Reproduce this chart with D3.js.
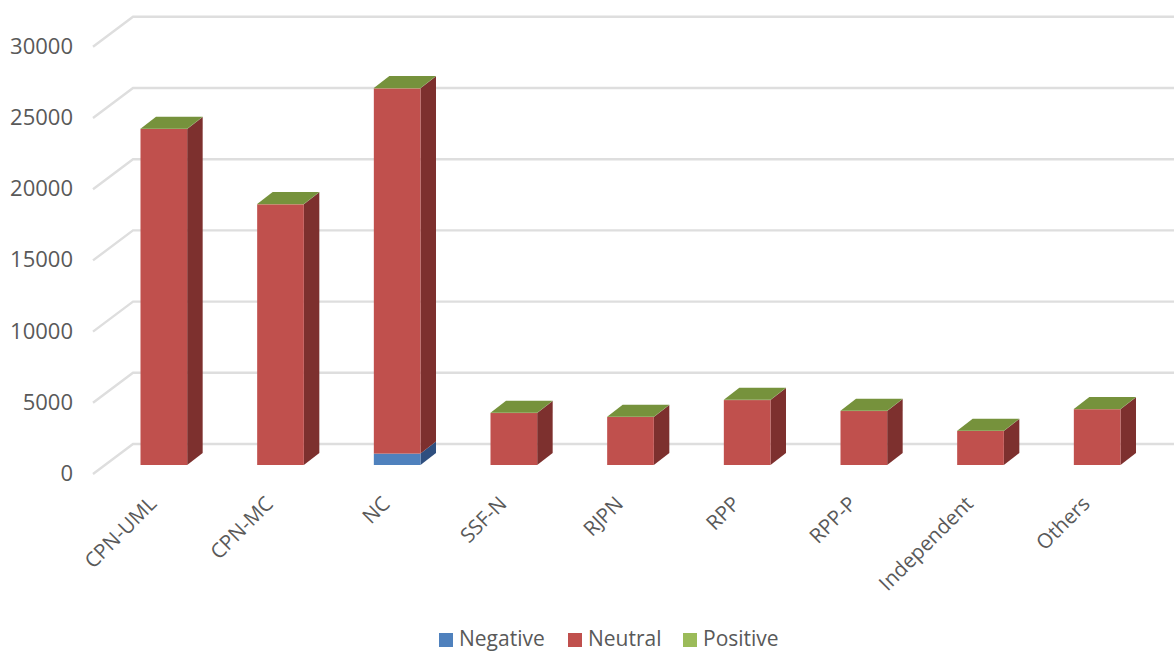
<!DOCTYPE html>
<html><head><meta charset="utf-8">
<script src="https://cdn.jsdelivr.net/npm/d3@7"></script>
<style>html,body{margin:0;padding:0;background:#fff;overflow:hidden}svg{display:block}text{font-family:"Open Sans",sans-serif;fill:#595959}</style>
</head><body><svg id="c" width="1174" height="652"></svg>
<script>
const categories=["CPN-UML","CPN-MC","NC","SSF-N","RJPN","RPP","RPP-P","Independent","Others"];
const negative=[0,0,800,0,0,0,0,0,0];
const neutral=[23600,18310,25650,3650,3370,4560,3790,2390,3920];
const positive=[20,20,25,20,20,20,20,20,20];
const seriesNames=["Negative","Neutral","Positive"];
const ticks=[0,5000,10000,15000,20000,25000,30000];
const frontColors=["#4F81BD","#C0504D","#9BBB59"];
const sideColors=["#2F4F7F","#7D302E","#5F7530"];
const topColor="#76923C";

const svg=d3.select("#c");
const rows=categories.map((c,i)=>({c,Negative:negative[i],Neutral:neutral[i],Positive:positive[i]}));
const stack=d3.stack().keys(seriesNames)(rows);
const x=d3.scaleBand().domain(categories).range([105.5,1155.5]).paddingInner(0.6).paddingOuter(0.3);
const y=d3.scaleLinear().domain([0,30000]).range([465,37.8]);
const depthX=15.5,depthY=12;
const wallDX=40,wallDY=30,gridBase=-21;
const backY=v=>y(v)+gridBase;
const wallX=133,right=1174;

svg.append("g").selectAll("path").data(ticks).join("path")
  .attr("fill","none").attr("stroke","#DEDEDE").attr("stroke-width",2.4)
  .attr("d",d=>`M${wallX-wallDX},${backY(d)+wallDY}L${wallX},${backY(d)}L${right},${backY(d)}`);

svg.append("g").selectAll("text").data(ticks).join("text")
  .attr("x",73).attr("y",d=>backY(d)+wallDY+7)
  .attr("text-anchor","end").attr("font-size",22).text(d=>d);

const marks=svg.append("g");
categories.forEach((c,i)=>{
  const bx=x(c),w=x.bandwidth();
  stack.forEach((s,k)=>{
    const [a,b]=s[i];
    if(b-a<=0)return;
    const y0=y(a),y1=y(b);
    marks.append("path").attr("fill",sideColors[k])
      .attr("d",`M${bx+w},${y0}L${bx+w+depthX},${y0-depthY}L${bx+w+depthX},${y1-depthY}L${bx+w},${y1}Z`);
    marks.append("rect").attr("x",bx).attr("y",y1).attr("width",w).attr("height",y0-y1).attr("fill",frontColors[k]);
  });
  const t=y(stack[2][i][1]);
  marks.append("path").attr("fill",topColor)
    .attr("d",`M${bx},${t}L${bx+depthX},${t-depthY}L${bx+w+depthX},${t-depthY}L${bx+w},${t}Z`);
});

svg.append("g").selectAll("text").data(categories).join("text")
  .attr("text-anchor","end").attr("font-size",20.5)
  .attr("transform",d=>`translate(${x(d)+x.bandwidth()/2-6},${505}) rotate(-45)`)
  .text(d=>d);

const legendX=[439,568,683];
const lg=svg.append("g").selectAll("g").data(seriesNames).join("g")
  .attr("transform",(d,i)=>`translate(${legendX[i]},633)`);
lg.append("rect").attr("width",14).attr("height",14).attr("fill",(d,i)=>frontColors[i]);
lg.append("text").attr("x",20).attr("y",13).attr("font-size",21).text(d=>d);
</script></body></html>
